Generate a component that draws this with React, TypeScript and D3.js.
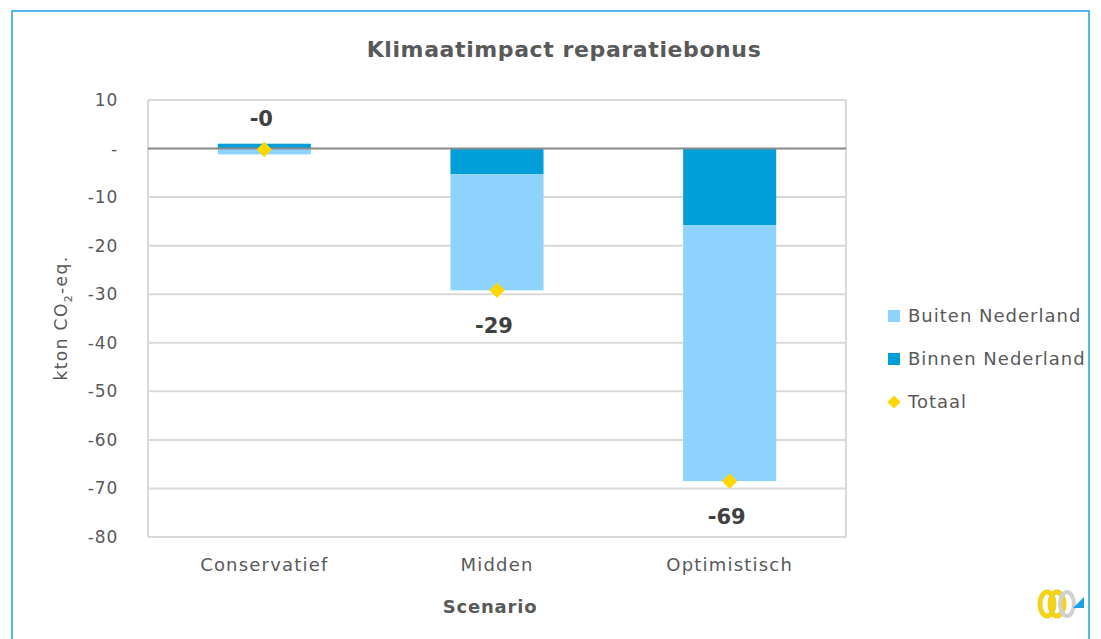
import React, { useEffect, useRef } from "react";
import * as d3 from "d3";

// scenarios and values in kton CO2-eq.
const scenarios = ["Conservatief", "Midden", "Optimistisch"];
const buiten = [-1.2, -23.9, -52.7];
const binnen = [1.0, -5.3, -15.8];
const totaal = [-0.2, -29.2, -68.5];
const totaalLabels = ["-0", "-29", "-69"];
const yTicks = [10, 0, -10, -20, -30, -40, -50, -60, -70, -80];

const FONT = "'DejaVu Sans', Verdana, sans-serif";

const App = () => {
  const svgRef = useRef<SVGSVGElement>(null);

  useEffect(() => {
    const width = 1101;
    const height = 639;
    const margin = { top: 100, right: 255, bottom: 102, left: 148 };
    const svg = d3.select(svgRef.current);
    svg.selectAll("*").remove();
    svg.attr("width", width).attr("height", height);

    const innerWidth = width - margin.left - margin.right;
    const innerHeight = height - margin.top - margin.bottom;

    // outer frame
    svg.append("rect")
      .attr("x", 12).attr("y", 11)
      .attr("width", 1077).attr("height", 640)
      .attr("fill", "#fff")
      .attr("stroke", "#1ba1e2")
      .attr("stroke-width", 1.5);

    svg.append("text")
      .attr("x", 564).attr("y", 57)
      .attr("text-anchor", "middle")
      .style("font-family", FONT)
      .style("font-size", "22px")
      .style("font-weight", "bold")
      .style("letter-spacing", "0.6px")
      .style("fill", "#595959")
      .text("Klimaatimpact reparatiebonus");

    const x = d3.scaleBand()
      .domain(scenarios)
      .range([0, innerWidth])
      .paddingInner(0.6)
      .paddingOuter(0.3);

    const y = d3.scaleLinear().domain([-80, 10]).range([innerHeight, 0]);

    const g = svg.append("g").attr("transform", `translate(${margin.left},${margin.top})`);

    // grid lines
    yTicks.filter((t) => t !== 0).forEach((t) => {
      g.append("line")
        .attr("x1", 0).attr("x2", innerWidth)
        .attr("y1", y(t)).attr("y2", y(t))
        .style("stroke", "#d9d9d9")
        .style("stroke-width", 2);
    });
    g.append("line")
      .attr("x1", 0).attr("x2", 0)
      .attr("y1", 0).attr("y2", innerHeight)
      .style("stroke", "#d9d9d9").style("stroke-width", 2);
    g.append("line")
      .attr("x1", innerWidth).attr("x2", innerWidth)
      .attr("y1", 0).attr("y2", innerHeight)
      .style("stroke", "#d9d9d9").style("stroke-width", 2);

    // y tick labels
    g.selectAll(".ylab")
      .data(yTicks)
      .enter()
      .append("text")
      .attr("x", -30)
      .attr("y", (d) => y(d))
      .attr("dy", "0.35em")
      .attr("text-anchor", "end")
      .style("font-family", FONT)
      .style("font-size", "17px")
      .style("letter-spacing", "0.8px")
      .style("fill", "#595959")
      .text((d) => (d === 0 ? "-" : String(d)));

    // bars: binnen stacked from 0, buiten continues from binnen (negative)
    scenarios.forEach((s, i) => {
      const bx = x(s)!;
      const bw = x.bandwidth();
      const bi = binnen[i];
      const bu = buiten[i];
      g.append("rect")
        .attr("x", bx).attr("width", bw)
        .attr("y", y(Math.max(0, bi)))
        .attr("height", Math.abs(y(bi) - y(0)))
        .attr("fill", "#009fd9");
      const base = bi < 0 ? bi : 0;
      g.append("rect")
        .attr("x", bx).attr("width", bw)
        .attr("y", y(base))
        .attr("height", y(base + bu) - y(base))
        .attr("fill", "#8dd3fd");
    });

    // zero line
    g.append("line")
      .attr("x1", 0).attr("x2", innerWidth)
      .attr("y1", y(0)).attr("y2", y(0))
      .style("stroke", "#898989")
      .style("stroke-width", 2);

    // totaal markers
    const diamond = d3.symbol().type(d3.symbolDiamond2).size(150);
    scenarios.forEach((s, i) => {
      const cx = x(s)! + x.bandwidth() / 2;
      g.append("path")
        .attr("d", diamond)
        .attr("transform", `translate(${cx},${y(totaal[i])})`)
        .attr("fill", "#ffd700");
      const above = i === 0;
      g.append("text")
        .attr("x", cx - 3)
        .attr("y", above ? y(totaal[i]) - 24 : y(totaal[i]) + 43)
        .attr("text-anchor", "middle")
        .style("font-family", FONT)
        .style("font-size", "21px")
        .style("font-weight", "bold")
        .style("fill", "#404040")
        .text(totaalLabels[i]);
    });

    // x labels
    g.selectAll(".xlab")
      .data(scenarios)
      .enter()
      .append("text")
      .attr("x", (d) => x(d)! + x.bandwidth() / 2)
      .attr("y", innerHeight + 34)
      .attr("text-anchor", "middle")
      .style("font-family", FONT)
      .style("font-size", "18px")
      .style("letter-spacing", "1.2px")
      .style("fill", "#595959")
      .text((d) => d);

    // axis titles
    svg.append("text")
      .attr("x", 490)
      .attr("y", 613)
      .attr("text-anchor", "middle")
      .style("font-family", FONT)
      .style("font-size", "18px")
      .style("font-weight", "bold")
      .style("letter-spacing", "0.8px")
      .style("fill", "#595959")
      .text("Scenario");

    const yt = svg.append("text")
      .attr("transform", "translate(67,318) rotate(-90)")
      .attr("text-anchor", "middle")
      .style("font-family", FONT)
      .style("font-size", "17px")
      .style("letter-spacing", "1.4px")
      .style("fill", "#595959");
    yt.append("tspan").text("kton CO");
    yt.append("tspan").attr("dy", 5).style("font-size", "11px").text("2");
    yt.append("tspan").attr("dy", -5).text("-eq.");

    // legend
    const legend = [
      { label: "Buiten Nederland", color: "#8dd3fd", type: "square" },
      { label: "Binnen Nederland", color: "#009fd9", type: "square" },
      { label: "Totaal", color: "#ffd700", type: "diamond" },
    ];
    const lg = svg.append("g").attr("transform", "translate(888,316)");
    legend.forEach((d, i) => {
      const ly = i * 43;
      if (d.type === "square") {
        lg.append("rect")
          .attr("x", 0).attr("y", ly - 6)
          .attr("width", 12).attr("height", 12)
          .attr("fill", d.color);
      } else {
        lg.append("path")
          .attr("d", d3.symbol().type(d3.symbolDiamond2).size(110))
          .attr("transform", `translate(6,${ly})`)
          .attr("fill", d.color);
      }
      lg.append("text")
        .attr("x", 20).attr("y", ly)
        .attr("dy", "0.35em")
        .style("font-family", FONT)
        .style("font-size", "18px")
        .style("letter-spacing", "1px")
        .style("fill", "#595959")
        .text(d.label);
    });

    // logo
    const logo = svg.append("g").attr("transform", "translate(1058,604)");
    logo.append("ellipse").attr("cx", -11).attr("cy", 0).attr("rx", 7).attr("ry", 12)
      .attr("fill", "none").attr("stroke", "#f2d21a").attr("stroke-width", 5);
    logo.append("ellipse").attr("cx", -1).attr("cy", 0).attr("rx", 7).attr("ry", 12)
      .attr("fill", "none").attr("stroke", "#f2d21a").attr("stroke-width", 5);
    logo.append("ellipse").attr("cx", 9).attr("cy", 0).attr("rx", 7).attr("ry", 12)
      .attr("fill", "none").attr("stroke", "#d0d0d0").attr("stroke-width", 4);
    logo.append("path").attr("d", "M15,4 L26,-7 L26,4 Z").attr("fill", "#1ba1e2");
  }, []);

  return (
    <div>
      <svg ref={svgRef} style={{ position: "absolute", left: 0, top: 0 }} />
    </div>
  );
};

export default App;
